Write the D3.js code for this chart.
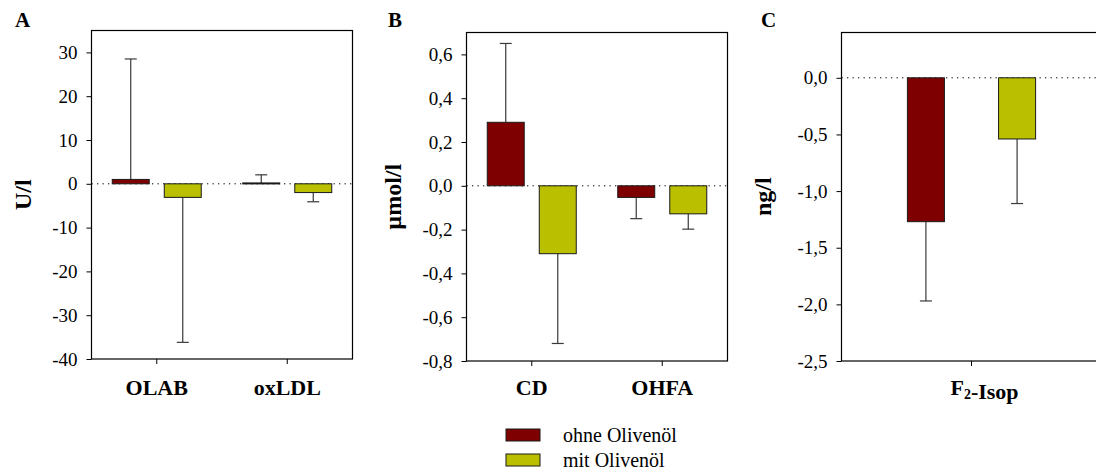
<!DOCTYPE html>
<html>
<head>
<meta charset="utf-8">
<script src="https://cdn.jsdelivr.net/npm/d3@7"></script>
<style>
  body { margin: 0; background: #fff; }
  svg { display: block; font-family: 'Liberation Serif', 'Times New Roman', serif; }
</style>
</head>
<body>
<svg id="chart" width="1096" height="470"></svg>
<script>
/* globals d3 */

// series names + colours
const seriesNames = ['ohne Olivenöl', 'mit Olivenöl'];
const seriesColors = ['#7f0000', '#bac000'];

// panel A (U/l)
const aCategories = ['OLAB', 'oxLDL'];
const aOhne = [1.0, 0.2];
const aOhneErr = [27.5, 1.85];
const aMit = [-3.1, -2.0];
const aMitErr = [33.1, 2.1];
const aTicks = [-40, -30, -20, -10, 0, 10, 20, 30];

// panel B (µmol/l)
const bCategories = ['CD', 'OHFA'];
const bOhne = [0.29, -0.053];
const bOhneErr = [0.36, 0.097];
const bMit = [-0.31, -0.128];
const bMitErr = [0.41, 0.07];
const bTicks = [-0.8, -0.6, -0.4, -0.2, 0, 0.2, 0.4, 0.6];

// panel C (ng/l)
const cCategories = ['F2-Isop'];
const cOhne = [-1.27];
const cOhneErr = [0.70];
const cMit = [-0.54];
const cMitErr = [0.57];
const cTicks = [-2.5, -2.0, -1.5, -1.0, -0.5, 0];

const deLocale = d3.formatLocale({
  decimal: ',', thousands: '.', grouping: [3], currency: ['', ' €'], minus: '-',
});

const svg = d3.select('#chart');

const drawPanel = ({
  letter, letterX, unit, unitX, left, right, top, bottom, domain,
  categories, ohne, ohneErr, mit, mitErr, ticks, format, innerPad, labelShift = 0,
}) => {
  const g = svg.append('g');

  const x = d3.scaleBand().domain(categories).range([left, right]).padding(0);
  const inner = d3.scaleBand()
    .domain(seriesNames)
    .range(innerPad.range)
    .paddingInner(innerPad.p)
    .paddingOuter(0);
  const y = d3.scaleLinear().domain(domain).range([bottom, top]);

  const rows = [];
  categories.forEach((c, i) => {
    rows.push({ c, s: seriesNames[0], v: ohne[i], e: ohneErr[i], color: seriesColors[0] });
    rows.push({ c, s: seriesNames[1], v: mit[i], e: mitErr[i], color: seriesColors[1] });
  });
  const cx = d => x(d.c) + x.bandwidth() / 2 + inner(d.s) + inner.bandwidth() / 2;

  // zero line
  g.append('line')
    .attr('x1', left).attr('x2', right)
    .attr('y1', y(0)).attr('y2', y(0))
    .attr('stroke', '#000')
    .attr('stroke-width', 1)
    .attr('stroke-dasharray', '1.3,4.2');

  // error bars (one-sided, away from zero)
  const errEnd = d => (d.v >= 0 ? d.v + d.e : d.v - d.e);
  const err = g.selectAll('.err').data(rows).enter().append('g').attr('class', 'err')
    .attr('stroke', '#3a3a3a').attr('stroke-width', 1.2);
  err.append('line')
    .attr('x1', cx).attr('x2', cx)
    .attr('y1', d => y(d.v)).attr('y2', d => y(errEnd(d)));
  err.append('line')
    .attr('x1', d => cx(d) - 6).attr('x2', d => cx(d) + 6)
    .attr('y1', d => y(errEnd(d))).attr('y2', d => y(errEnd(d)));

  // bars
  g.selectAll('.bar').data(rows).enter().append('rect')
    .attr('class', 'bar')
    .attr('x', d => cx(d) - inner.bandwidth() / 2)
    .attr('width', inner.bandwidth())
    .attr('y', d => y(Math.max(0, d.v)))
    .attr('height', d => Math.max(1, Math.abs(y(d.v) - y(0))))
    .attr('fill', d => d.color)
    .attr('stroke', '#1a1a1a')
    .attr('stroke-width', 1);

  // frame
  g.append('rect')
    .attr('x', left).attr('y', top)
    .attr('width', right - left).attr('height', bottom - top)
    .attr('fill', 'none').attr('stroke', '#000').attr('stroke-width', 1.2);

  // y axis
  const yAxis = g.append('g')
    .attr('transform', `translate(${left},0)`)
    .call(d3.axisLeft(y).tickValues(ticks).tickSize(5).tickPadding(9)
      .tickFormat(deLocale.format(format)));
  yAxis.select('.domain').remove();
  yAxis.attr('font-family', null);
  yAxis.selectAll('text')
    .attr('font-size', 19).attr('fill', '#000');
  yAxis.selectAll('line').attr('stroke', '#000');

  // x axis ticks
  const xAxis = g.append('g')
    .attr('transform', `translate(0,${bottom})`)
    .call(d3.axisBottom(x).tickSize(5).tickFormat(''));
  xAxis.select('.domain').remove();
  xAxis.selectAll('line').attr('stroke', '#000');

  // category labels (digit -> subscript)
  const lab = g.selectAll('.cat').data(categories).enter().append('text')
    .attr('class', 'cat')
    .attr('x', c => x(c) + x.bandwidth() / 2 + labelShift)
    .attr('y', 395)
    .attr('text-anchor', 'middle')
    .attr('font-size', 22)
    .attr('font-weight', 'bold');
  lab.each(function (c) {
    const t = d3.select(this);
    c.split(/(\d)/).filter(s => s.length).forEach(part => {
      if (/^\d$/.test(part)) {
        t.append('tspan').attr('font-size', 14).attr('dy', 4).text(part);
        t.append('tspan').attr('dy', -4).text('');
      } else {
        t.append('tspan').text(part);
      }
    });
  });

  // unit title
  g.append('text')
    .attr('transform', `translate(${unitX},${(top + bottom) / 2}) rotate(-90)`)
    .attr('text-anchor', 'middle')
    .attr('font-size', 24)
    .attr('font-weight', 'bold')
    .text(unit);

  // panel letter
  g.append('text')
    .attr('x', letterX).attr('y', 27)
    .attr('font-size', 21)
    .attr('font-weight', 'bold')
    .text(letter);
};

drawPanel({
  letter: 'A', letterX: 15, unit: 'U/l', unitX: 31,
  left: 91.5, right: 352.5, top: 30.5, bottom: 359, domain: [-40, 35],
  categories: aCategories, ohne: aOhne, ohneErr: aOhneErr, mit: aMit, mitErr: aMitErr,
  ticks: aTicks, format: 'd', innerPad: { range: [-44.5, 44.5], p: 0.289 },
});

drawPanel({
  letter: 'B', letterX: 388, unit: 'µmol/l', unitX: 401,
  left: 466.5, right: 727.5, top: 32.5, bottom: 361, domain: [-0.8, 0.7],
  categories: bCategories, ohne: bOhne, ohneErr: bOhneErr, mit: bMit, mitErr: bMitErr,
  ticks: bTicks, format: '.1f', innerPad: { range: [-44.5, 44.5], p: 0.289 },
});

drawPanel({
  letter: 'C', letterX: 761, unit: 'ng/l', unitX: 771,
  left: 841.5, right: 1101.5, top: 32.5, bottom: 361, domain: [-2.5, 0.4],
  categories: cCategories, ohne: cOhne, ohneErr: cOhneErr, mit: cMit, mitErr: cMitErr,
  ticks: cTicks, format: '.1f', innerPad: { range: [-64.1, 64.1], p: 0.594 }, labelShift: 13,
});

// legend
const legend = svg.append('g').attr('transform', 'translate(506,429)');
const item = legend.selectAll('.item').data(seriesNames).enter().append('g')
  .attr('class', 'item')
  .attr('transform', (d, i) => `translate(0,${i * 25})`);
item.append('rect')
  .attr('width', 34).attr('height', 12)
  .attr('fill', (d, i) => seriesColors[i])
  .attr('stroke', '#1a1a1a').attr('stroke-width', 1);
item.append('text')
  .attr('x', 57).attr('y', 13)
  .attr('font-size', 20)
  .text(d => d);
</script>
</body>
</html>
